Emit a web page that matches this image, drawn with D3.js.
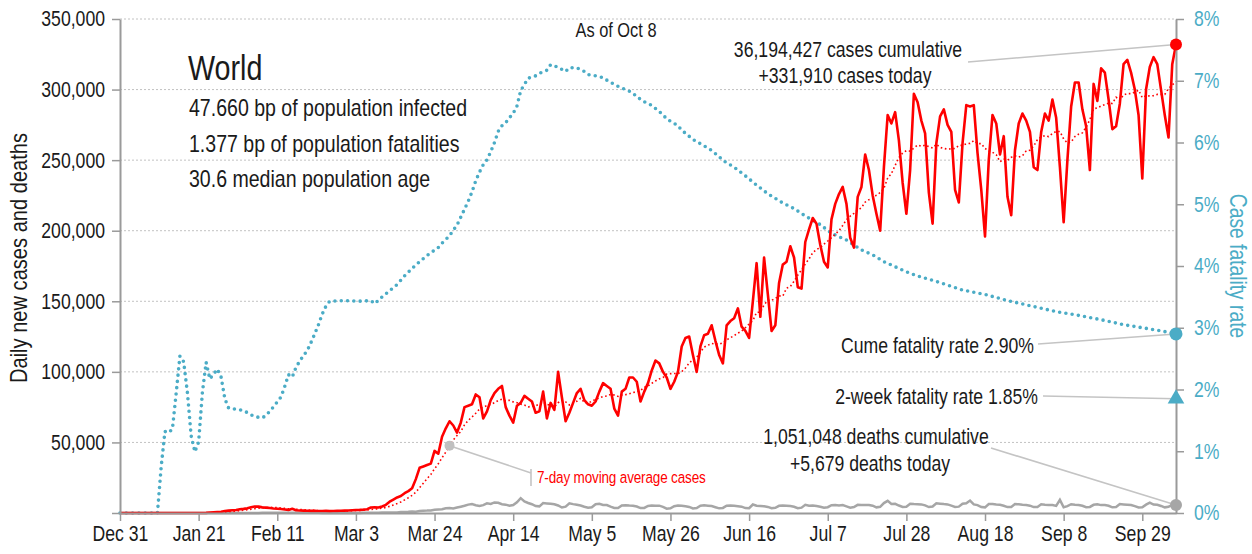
<!DOCTYPE html>
<html>
<head>
<meta charset="utf-8">
<script src="https://cdn.jsdelivr.net/npm/d3@7"></script>
<style>
body{margin:0;background:#fff}
svg text{font-family:"Liberation Sans",Arial,sans-serif;fill:#1a1a1a}
</style>
</head>
<body>
<svg id="chart"></svg>
<script>
// first day of every daily series
var startDay = "2019-12-31";

// daily new cases, one value per day from Dec 31
var dailyCases = [
0,0,0,0,0,0,0,0,0,0,
0,0,0,0,0,0,0,0,0,0,
0,0,0,100,300,500,700,900,1400,1700,
1900,2100,2600,2900,3300,4000,4600,4500,4000,3800,
3500,3200,3000,2800,2500,2200,3000,2000,1800,1700,
1600,1500,1500,1400,1400,1500,1300,1400,1500,1600,
1700,1800,2000,2100,2200,2400,2700,3900,4000,3900,
4600,5800,8000,9500,11000,12000,14000,15500,17500,24000,
32000,33000,34000,35000,44000,42000,54000,60000,65000,62000,
57000,64000,75000,76000,77000,84000,82000,67000,72000,80000,
85000,88000,90000,75000,69000,64000,76000,78000,83000,81000,
79000,71000,72000,86000,67000,78000,73000,100000,82000,65000,
71000,78000,85000,88000,80000,77000,76000,79000,86000,92000,
90000,88000,74000,69000,86000,88000,96000,96000,93000,79000,
86000,92000,101000,108000,106000,100000,96000,88000,93000,100000,
118000,124000,125000,112000,100000,118000,126000,127000,133000,122000,
112000,106000,133000,136000,138000,145000,132000,129000,124000,150000,
177000,139000,181000,155000,129000,133000,163000,176000,178000,189000,
181000,160000,159000,192000,201000,209000,205000,190000,178000,174000,
208000,219000,226000,231000,219000,195000,188000,224000,231000,254000,
243000,225000,212000,200000,245000,282000,276000,284000,264000,234000,
212000,243000,297000,291000,278000,269000,227000,205000,262000,281000,
286000,275000,270000,229000,220000,262000,289000,288000,289000,255000,
229000,196000,250000,282000,276000,254000,267000,224000,211000,257000,
276000,283000,278000,270000,245000,243000,270000,283000,278000,293000,
280000,245000,206000,250000,288000,305000,305000,286000,274000,243000,
304000,292000,315000,312000,293000,272000,274000,290000,318000,321000,
312000,300000,282000,237000,300000,316000,323000,318000,300000,282000,
266000,318000,331910
];

// daily new deaths, same days
var dailyDeaths = [
0,0,0,0,0,0,0,0,0,0,
0,1,0,0,0,0,0,1,0,1,
2,3,8,16,15,24,26,26,38,43,
46,45,57,64,66,73,73,86,89,97,
108,97,146,121,143,142,105,98,136,116,
118,109,97,150,71,52,29,44,37,58,
64,55,72,86,81,100,103,103,228,218,
308,344,427,386,398,665,724,839,1095,946,
1430,1645,1691,1826,2256,2427,2624,3374,3457,3260,
3840,4437,5093,5930,6300,5540,5060,5560,6820,6400,
7500,7200,6200,5900,5100,5600,7600,10500,8200,7100,
6200,4900,4700,7000,6800,6600,6200,5300,3900,4500,
6900,6300,5800,5300,4400,3800,4100,6200,6500,5700,
5600,4500,3600,3500,5400,5500,5300,5200,4600,3500,
3600,5000,5300,5100,5200,4300,3100,3300,4800,5300,
5200,4800,4300,3200,3500,5100,5400,5200,4900,4100,
3300,3600,5200,5300,5100,4800,4500,3500,3400,6000,
5100,4900,4700,4300,3400,3700,5100,5300,5200,4900,
4400,3400,3800,5800,5100,5300,4900,4400,3700,4100,
5500,5600,5300,5600,4700,3800,4200,5800,5700,5600,
5700,5200,4000,4400,7000,8600,6400,6500,5300,4300,
4400,6500,6300,6200,6100,5400,4200,4600,6900,6600,
6300,6100,5200,4300,4500,6600,6900,8800,6100,5600,
4200,4000,6400,6300,6000,5800,5100,4200,4300,6300,
6200,5900,5700,5200,4200,4300,6200,5900,5700,5600,
5000,9300,4100,4900,6200,5800,5700,5100,4100,4300,
5800,6200,5600,5600,5100,4000,4200,6300,6100,5900,
5700,4900,3900,4100,5900,7300,6000,5800,5000,4000,
4400,5900,5679
];

// case fatality rate (%), read at these day numbers
var cfrDay = [0,10,11,12,13,14,15,16,17,18,19,20,21,22,23,24,25,26,27,28,29,31,33,35,36,38,39,41,42,43,44,45,46,47,48,49,50,51,52,53,54,55,56,60,64,67,68,70,72,74,76,78,80,82,85,86,88,89,90,92,93,94,95,96,97,98,99,100,101,102,103,104,105,106,107,108,109,111,112,114,115,117,119,120,122,124,125,127,129,130,132,134,135,137,138,140,142,143,145,146,148,149,150,152,153,155,157,158,160,161,164,167,170,173,177,180,183,187,190,194,198,201,204,208,211,214,218,221,225,231,237,245,250,256,262,268,274,278,282];
var cfrRate = [0,0,0.75,1.32,1.30,1.36,1.94,2.54,2.45,1.95,1.25,0.99,1.15,1.95,2.44,2.17,2.25,2.33,2.2,1.85,1.70,1.68,1.66,1.59,1.56,1.54,1.58,1.72,1.80,1.88,2.05,2.24,2.2,2.36,2.46,2.55,2.63,2.76,2.9,3.05,3.22,3.35,3.43,3.44,3.43,3.44,3.39,3.5,3.6,3.7,3.84,3.96,4.07,4.17,4.30,4.37,4.49,4.58,4.66,4.92,5.05,5.2,5.38,5.52,5.64,5.72,5.85,6.0,6.18,6.27,6.32,6.40,6.47,6.59,6.84,6.94,7.04,7.08,7.12,7.17,7.26,7.22,7.15,7.21,7.21,7.15,7.1,7.08,7.05,7.01,6.94,6.88,6.86,6.8,6.74,6.66,6.6,6.55,6.45,6.38,6.31,6.27,6.2,6.1,6.05,5.98,5.91,5.87,5.77,5.71,5.6,5.46,5.31,5.17,5.02,4.93,4.81,4.67,4.53,4.42,4.26,4.18,4.07,3.96,3.88,3.82,3.75,3.69,3.61,3.54,3.44,3.33,3.26,3.2,3.13,3.05,2.99,2.95,2.90];

var cumeRate = 2.90;
var twoWeekRate = 1.85;

// axis ticks
var caseTicks = [50000,100000,150000,200000,250000,300000,350000];
var rateTicks = [0,1,2,3,4,5,6,7,8];
var dateTicks = ["2019-12-31","2020-01-21","2020-02-11","2020-03-03","2020-03-24","2020-04-14","2020-05-05","2020-05-26","2020-06-16","2020-07-07","2020-07-28","2020-08-18","2020-09-08","2020-09-29"];

var infoLines = ["47.660 bp of population infected","1.377 bp of population fatalities","30.6 median population age"];

var red = "#ff0000", blue = "#4bacc6", grey = "#a6a6a6", leader = "#c4c4c4";

var parse = d3.utcParse("%Y-%m-%d");
var t0 = parse(startDay);
var dayDate = function(i){ return d3.utcDay.offset(t0, i); };
var lastDay = dailyCases.length - 1;

// 7-day trailing average of the daily cases
var maCases = dailyCases.map(function(v, i){
    return d3.mean(dailyCases.slice(Math.max(0, i - 6), i + 1));
});

var screen = {width:1252, height:554};
var plot = {left:120, right:1176, top:19, bottom:513};

// no narrow font installed, so squeeze text horizontally
var narrow = function(sel, k){
    sel.each(function(){
        var t = d3.select(this);
        var x = +t.attr("x") || 0, y = +t.attr("y") || 0;
        var base = t.attr("transform") || "";
        t.attr("x", 0).attr("y", 0)
            .attr("transform", base + " translate(" + x + "," + y + ") scale(" + k + ",1)");
    });
};

var svg = d3.select("#chart")
    .attr("width", screen.width)
    .attr("height", screen.height);

var xScale = d3.scaleUtc()
    .domain([t0, dayDate(lastDay)])
    .range([plot.left, plot.right]);
var yScale = d3.scaleLinear()
    .domain([0, 350000])
    .range([plot.bottom, plot.top]);
var rScale = d3.scaleLinear()
    .domain([0, 8])
    .range([plot.bottom, plot.top]);

// gridlines
svg.append("g").selectAll("line")
    .data(caseTicks)
    .enter().append("line")
    .attr("x1", plot.left).attr("x2", plot.right)
    .attr("y1", function(d){ return yScale(d); })
    .attr("y2", function(d){ return yScale(d); })
    .attr("stroke", "#c2c2c2")
    .attr("stroke-dasharray", "2,2");

// fatality rate, dotted blue
var rateLine = d3.line()
    .x(function(d, i){ return xScale(dayDate(cfrDay[i])); })
    .y(function(d){ return rScale(d); });
svg.append("path")
    .datum(cfrRate)
    .attr("d", rateLine)
    .attr("fill", "none")
    .attr("stroke", blue)
    .attr("stroke-width", 3.6)
    .attr("stroke-linecap", "round")
    .attr("stroke-dasharray", "0,6.3");

var dayLine = d3.line()
    .x(function(d, i){ return xScale(dayDate(i)); })
    .y(function(d){ return yScale(d); });

svg.append("path")
    .datum(dailyDeaths)
    .attr("d", dayLine)
    .attr("fill", "none")
    .attr("stroke", grey)
    .attr("stroke-width", 2.5);

svg.append("path")
    .datum(dailyCases)
    .attr("d", dayLine)
    .attr("fill", "none")
    .attr("stroke", red)
    .attr("stroke-width", 2.6)
    .attr("stroke-linejoin", "round");

svg.append("path")
    .datum(maCases)
    .attr("d", dayLine)
    .attr("fill", "none")
    .attr("stroke", red)
    .attr("stroke-width", 1.6)
    .attr("stroke-dasharray", "1.6,2.6");

// axes
var styleAxis = function(g, color, size){
    g.select(".domain").attr("stroke", "#9a9a9a").attr("stroke-width", 2);
    g.selectAll(".tick line").attr("stroke", "#9a9a9a").attr("stroke-width", 1.5);
    g.selectAll(".tick text").style("fill", color).attr("font-size", size)
        .call(narrow, 0.82);
};

svg.append("g")
    .attr("transform", "translate(" + plot.left + ",0)")
    .call(d3.axisLeft(yScale).tickValues([0].concat(caseTicks))
        .tickFormat(function(d){ return d ? d3.format(",")(d) : ""; })
        .tickSize(8).tickPadding(7).tickSizeOuter(0))
    .call(styleAxis, "#1a1a1a", 21.5);

svg.append("g")
    .attr("transform", "translate(" + plot.right + ",0)")
    .call(d3.axisRight(rScale).tickValues(rateTicks)
        .tickFormat(function(d){ return d + "%"; })
        .tickSize(8).tickPadding(10).tickSizeOuter(0))
    .call(styleAxis, blue, 21.5);

svg.append("g")
    .attr("transform", "translate(0," + plot.bottom + ")")
    .call(d3.axisBottom(xScale).tickValues(dateTicks.map(parse))
        .tickFormat(d3.utcFormat("%b %-d"))
        .tickSize(8).tickPadding(5).tickSizeOuter(0))
    .call(styleAxis, "#1a1a1a", 21.5);

// axis titles
svg.append("text")
    .text("Daily new cases and deaths")
    .attr("transform", "translate(27,258) rotate(-90)")
    .attr("text-anchor", "middle")
    .attr("font-size", 24.5)
    .call(narrow, 0.82);
svg.append("text")
    .text("Case fatality rate")
    .attr("transform", "translate(1230,266) rotate(90)")
    .attr("text-anchor", "middle")
    .attr("font-size", 23.5)
    .style("fill", blue)
    .call(narrow, 0.82);

// headline block
svg.append("text").text("World")
    .attr("x", 188).attr("y", 80).attr("font-size", 35)
    .call(narrow, 0.82);
svg.append("g").selectAll("text")
    .data(infoLines)
    .enter().append("text")
    .text(function(d){ return d; })
    .attr("x", 189)
    .attr("y", function(d, i){ return 116 + i * 35.5; })
    .attr("font-size", 23)
    .call(narrow, 0.85);

svg.append("text").text("As of Oct 8")
    .attr("x", 616).attr("y", 37)
    .attr("text-anchor", "middle").attr("font-size", 20)
    .call(narrow, 0.82);

// end-of-series markers and notes
var xEnd = xScale(dayDate(lastDay));
var notes = svg.append("g");

var leaderLine = function(x1, y1, x2, y2){
    notes.append("line")
        .attr("x1", x1).attr("y1", y1).attr("x2", x2).attr("y2", y2)
        .attr("stroke", leader).attr("stroke-width", 1.6);
};
var noteText = function(txt, x, y, anchor){
    notes.append("text").text(txt)
        .attr("x", x).attr("y", y)
        .attr("text-anchor", anchor).attr("font-size", 21.5)
        .call(narrow, 0.82);
};

leaderLine(968, 62, xEnd, yScale(dailyCases[lastDay]));
noteText(d3.format(",")(36194427) + " cases cumulative", 848, 57, "middle");
noteText("+" + d3.format(",")(dailyCases[lastDay]) + " cases today", 845, 83, "middle");

leaderLine(1038, 344, xEnd, rScale(cumeRate));
noteText("Cume fatality rate " + cumeRate.toFixed(2) + "%", 1034, 353, "end");

leaderLine(1043, 396, xEnd, rScale(twoWeekRate));
noteText("2-week fatality rate " + twoWeekRate.toFixed(2) + "%", 1038, 404, "end");

leaderLine(991, 448, xEnd, yScale(dailyDeaths[lastDay]));
noteText(d3.format(",")(1051048) + " deaths cumulative", 876, 444, "middle");
noteText("+" + d3.format(",")(dailyDeaths[lastDay]) + " deaths today", 870, 471, "middle");

notes.append("circle")
    .attr("cx", xEnd).attr("cy", yScale(dailyCases[lastDay])).attr("r", 6)
    .attr("fill", red);
notes.append("circle")
    .attr("cx", xEnd).attr("cy", rScale(cumeRate)).attr("r", 6.5)
    .attr("fill", blue);
notes.append("path")
    .attr("d", d3.symbol(d3.symbolTriangle).size(120))
    .attr("transform", "translate(" + xEnd + "," + rScale(twoWeekRate) + ")")
    .attr("fill", blue);
notes.append("circle")
    .attr("cx", xEnd).attr("cy", yScale(dailyDeaths[lastDay])).attr("r", 6)
    .attr("fill", grey);

// moving-average callout
var maDay = 88;
var mx = xScale(dayDate(maDay)), my = yScale(maCases[maDay]);
leaderLine(mx, my, 531, 473);
leaderLine(531, 469, 531, 486);
notes.append("circle")
    .attr("cx", mx).attr("cy", my).attr("r", 5)
    .attr("fill", "#c0c0c0");
notes.append("text").text("7-day moving average cases")
    .attr("x", 537).attr("y", 483)
    .attr("font-size", 16.5)
    .attr("letter-spacing", -0.2)
    .style("fill", red)
    .call(narrow, 0.82);
</script>
</body>
</html>
